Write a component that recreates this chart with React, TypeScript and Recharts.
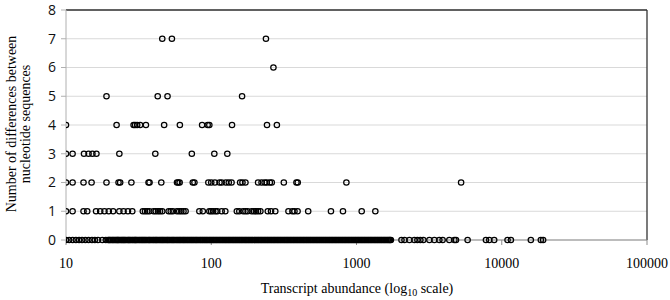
import { ScatterChart, Scatter, XAxis, YAxis, CartesianGrid, ReferenceLine } from "recharts";

const xTicks = [10, 100, 1000, 10000, 100000];
const yTicks = [0, 1, 2, 3, 4, 5, 6, 7, 8];

// transcript abundance of each sequence, grouped by number of differences
const diff0 = [
  10, 10.5, 11.1, 11.7, 12.3, 12.9, 13.6, 14.3, 15.1, 15.8, 16.6, 17.8, 18.8,
  19.5, 20.1, 20.9, 21.6, 22.4, 23.0, 23.9, 24.7, 25.5, 26.6, 27.4, 28.5, 29.6,
  30.4, 31.7, 32.9, 34.1, 35.3, 36.8, 38.0, 39.6, 41.1, 42.5, 44.3, 45.9, 47.6,
  49.5, 51.2, 53.3, 55.1, 57.4, 59.6, 61.8, 64.2, 66.5, 69.1, 71.8, 74.4, 77.3,
  80.1, 83.4, 86.5, 89.8, 93.1, 96.8, 100.4, 104.2, 108.3, 112.4, 116.7, 121.2,
  125.8, 130.6, 135.5, 140.8, 146.1, 151.7, 157.5, 163.4, 169.8, 176.2, 183.0,
  190.1, 197.3, 204.8, 212.6, 220.8, 229.2, 238.1, 247.0, 256.5, 266.3, 276.4,
  287.1, 298.0, 309.4, 321.3, 333.5, 346.2, 359.6, 373.3, 387.6, 402.3, 417.8,
  433.7, 450.3, 467.5, 485.4, 504.0, 523.2, 543.2, 564.1, 585.5, 608.0, 631.2,
  655.3, 680.4, 706.5, 733.4, 761.5, 790.6, 820.8, 852.1, 884.8, 918.5, 953.7,
  990.1, 1028, 1067, 1108, 1150, 1195, 1240, 1287, 1337, 1388, 1441, 1495, 1553,
  1612, 1674, 2040, 2140, 2314, 2505, 2626, 2752, 2885, 3176, 3436, 3718, 3917,
  4355, 4718, 4842, 5821, 7782, 8204, 8871, 10960, 11560, 15860, 18580, 19270,
  19.8, 20.5, 21.2, 22.0, 22.7, 23.4, 24.3, 25.1, 26.0, 27.0, 27.9, 29.0, 30.0,
  31.0, 32.3, 33.5, 34.7, 36.0, 37.4, 38.8, 40.3, 41.8, 43.4, 45.1, 46.7, 48.5,
  50.3, 52.2, 54.2, 56.2, 58.5, 60.7, 63.0, 65.3, 67.8, 70.4, 73.1, 75.8, 78.7,
  81.7, 84.9, 88.1, 91.4, 94.9, 98.6, 102.3, 106.2, 110.3, 114.5, 118.9, 123.5,
  128.2, 133.0, 138.1, 143.4, 148.9, 154.6, 160.4, 166.6, 173.0, 179.6, 186.5,
  193.6, 201.0, 208.7, 216.7, 225.0, 233.6, 242.5, 251.7, 261.3, 271.3, 281.7,
  292.5, 303.6, 315.3, 327.3, 339.8, 352.8, 366.4, 380.4, 394.9, 410.0, 425.7,
  441.9, 458.8, 476.4, 494.6, 513.5, 533.1, 553.6, 574.7, 596.7, 619.5, 643.2,
  667.8, 693.3, 719.8, 747.4, 775.9, 805.6, 836.4, 868.3, 901.5, 936.0, 971.8,
  1009, 1047, 1087, 1129, 1172, 1217, 1263, 1312, 1362, 1414, 1468, 1524, 1582,
  1643, 1700, 1725,
];
const diff1 = [
  10, 11.1, 13.2, 14.0, 16.1, 17.2, 18.4, 19.7, 21.1, 23.3, 24.9, 26.7, 28.6,
  33.8, 35.0, 36.2, 37.5, 40.1, 41.5, 43.0, 44.4, 46.0, 50.9, 52.6, 54.4, 58.1,
  60.2, 62.2, 64.4, 66.6, 82.8, 87.5, 97, 99.8, 103, 107, 110, 118, 125, 150,
  156, 166, 172, 178, 190, 197, 203, 210, 218, 245, 258, 276, 340, 362, 374, 393,
  465, 667, 807, 1086, 1348,
];
const diff2 = [
  10, 11.1, 13.2, 15.0, 19.0, 23.0, 23.6, 28.2, 37.0, 37.6, 45.3, 58.1, 59.3,
  60.6, 74.6, 76.6, 95.5, 100, 106, 114, 118, 126, 132, 138, 158, 164, 172, 210,
  222, 233, 241, 253, 261, 316, 386, 394, 852, 5250,
];
const diff3 = [10, 11.1, 13.3, 14.3, 15.2, 16.2, 23.3, 41.2, 73.5, 105, 129];
const diff4 = [10, 22.3, 29.2, 29.9, 30.9, 32.4, 35.5, 47.4, 60.8, 86.5, 94.5, 97, 139, 242, 283];
const diff5 = [19, 42.8, 50, 163];
const diff6 = [268];
const diff7 = [46, 53.6, 238];

const rows = [diff0, diff1, diff2, diff3, diff4, diff5, diff6, diff7];
const points = rows.flatMap((xs, d) => xs.map((x) => ({ abundance: x, diff: d })));

const serif = "'Liberation Serif', 'Times New Roman', serif";

const OpenCircle = (props: any) => (
  <circle cx={props.cx} cy={props.cy} r={2.7} fill="none" stroke="#000" strokeWidth={1.2} />
);

export default function App() {
  return (
    <div style={{ position: "absolute", left: 0, top: 0, width: 670, height: 300, background: "#fff" }}>
      <ScatterChart width={670} height={300} margin={{ top: 10, right: 23, bottom: 0, left: 0 }}>
        <CartesianGrid vertical={false} stroke="#d9d9d9" />
        <XAxis
          dataKey="abundance"
          type="number"
          scale="log"
          domain={[10, 100000]}
          ticks={xTicks}
          allowDataOverflow
          height={60}
          stroke="#8c8c8c"
          tickSize={5}
          tickMargin={13}
          tick={{ fill: "#000", fontSize: 14, fontFamily: serif }}
        />
        <YAxis
          dataKey="diff"
          type="number"
          domain={[0, 8]}
          ticks={yTicks}
          width={66}
          stroke="#b0b0b0"
          tickSize={5}
          tickMargin={5}
          tick={{ fill: "#111", fontSize: 14, fontFamily: "'Open Sans', sans-serif" }}
        />
        <ReferenceLine y={8} stroke="#333" strokeWidth={1.3} />
        <ReferenceLine x={100000} stroke="#333" strokeWidth={1.3} />
        <Scatter data={points} shape={OpenCircle} isAnimationActive={false} />
      </ScatterChart>
      <svg width={670} height={300} style={{ position: "absolute", left: 0, top: 0, pointerEvents: "none" }}>
        <g fontFamily={serif} fontSize={14} fill="#000">
          <text x={11} y={124} textAnchor="middle" dominantBaseline="central" transform="rotate(-90 11 124)">
            Number of differences between
          </text>
          <text x={25} y={124} textAnchor="middle" dominantBaseline="central" transform="rotate(-90 25 124)">
            nucleotide sequences
          </text>
          <text x={357} y={293} textAnchor="middle">
            Transcript abundance (log
            <tspan fontSize={10} dy={3}>10</tspan>
            <tspan dy={-3}> scale)</tspan>
          </text>
        </g>
      </svg>
    </div>
  );
}
